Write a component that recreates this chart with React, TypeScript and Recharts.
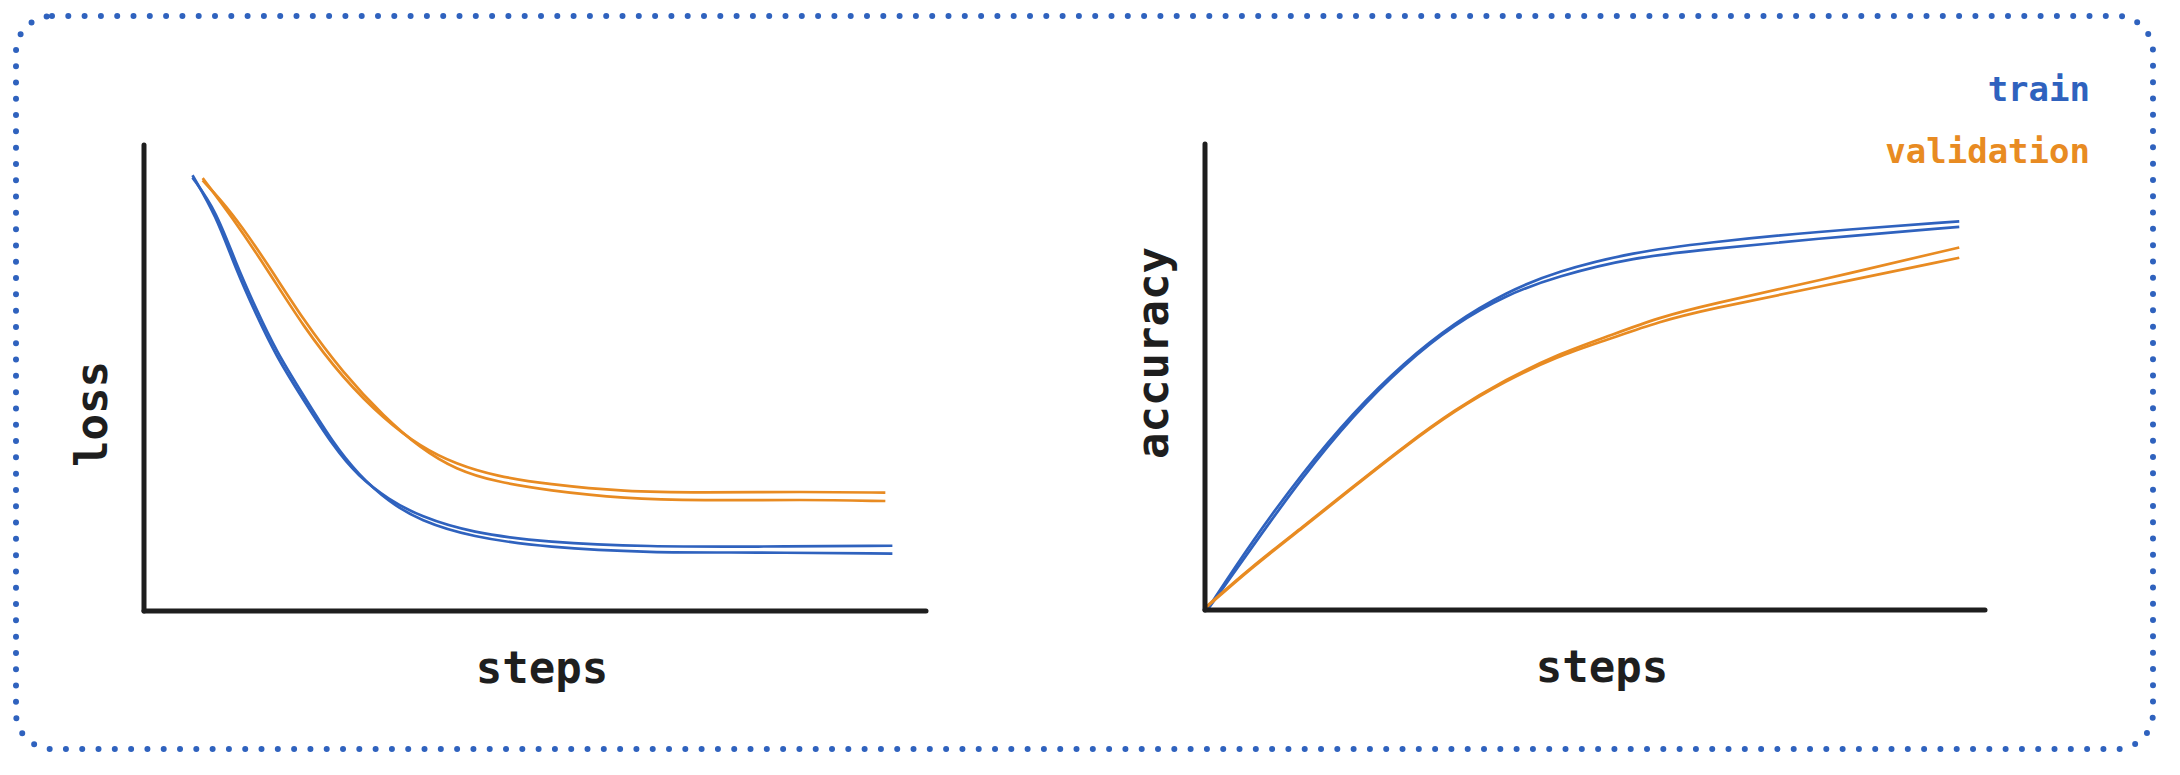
import { LineChart, Line, XAxis, YAxis, Legend } from "recharts";

const BLUE = "#2f62be";
const ORANGE = "#e88b22";
const INK = "#1e1e1e";
const FONT = "'DejaVu Sans Mono', monospace";

// loss panel (steps and loss in 0..100 plot units)
const lossTrainSteps = [6.2, 9.2, 11.7, 14.4, 16.9, 20.3, 24.2, 27.4, 31.3, 35.3, 41.8, 51.6, 64.7, 77.7, 95.7];
const lossTrainA = [93.5, 84.9, 73.5, 63.4, 54.7, 45.5, 35.3, 28.9, 23.9, 20.3, 16.8, 14.7, 13.8, 13.8, 14.0];
const lossTrainB = [93.0, 86.0, 74.8, 64.6, 55.8, 46.5, 36.0, 29.3, 23.4, 19.4, 15.9, 13.6, 12.5, 12.6, 12.3];

const lossValSteps = [7.5, 11.1, 15.7, 20.3, 25.5, 30.7, 35.3, 39.9, 45.1, 51.6, 61.4, 71.2, 84.3, 94.8];
const lossValA = [92.9, 84.9, 73.5, 61.2, 49.8, 41.2, 35.3, 31.5, 28.9, 27.2, 25.6, 25.4, 25.6, 25.4];
const lossValB = [92.4, 85.9, 74.8, 62.6, 51.0, 41.7, 35.0, 30.3, 27.7, 25.9, 24.1, 23.7, 23.9, 23.6];

// accuracy panel
const accTrainSteps = [0.4, 5.9, 12.5, 19.0, 25.5, 32.0, 38.6, 45.1, 54.9, 64.7, 77.7, 96.7];
const accTrainA = [0.4, 14.4, 29.5, 42.4, 53.1, 61.7, 68.2, 72.7, 76.8, 78.9, 81.1, 83.4];
const accTrainB = [0.2, 13.2, 28.6, 41.8, 52.7, 61.4, 67.6, 71.6, 75.7, 77.4, 79.6, 82.2];

const accValSteps = [0, 5.9, 12.5, 19.0, 25.5, 32.0, 38.6, 45.1, 51.6, 58.2, 64.7, 77.7, 96.7];
const accValA = [0.5, 9.2, 17.8, 26.5, 35.1, 43.0, 49.5, 54.8, 58.7, 62.8, 65.6, 70.3, 77.8];
const accValB = [0.3, 9.0, 17.6, 26.3, 34.9, 42.8, 49.2, 54.4, 58.0, 61.9, 64.6, 69.0, 75.6];

const legendNames = ["train", "validation"];

const rows = (steps: number[], vals: number[]) => steps.map((s, i) => ({ step: s, v: vals[i] }));

const axisLine = { stroke: INK, strokeWidth: 5, strokeLinecap: "round" as const };

function YTitle({ viewBox, text, shift }: any) {
  if (!viewBox) return null;
  const cx = viewBox.x + viewBox.width - 37;
  const cy = viewBox.y + viewBox.height / 2 + shift;
  return (
    <text
      x={cx}
      y={cy}
      transform={`rotate(-90 ${cx} ${cy})`}
      textAnchor="middle"
      fill={INK}
      fontFamily={FONT}
      fontWeight="bold"
      fontSize={44}
    >
      {text}
    </text>
  );
}

function XTitle({ viewBox, text }: any) {
  if (!viewBox) return null;
  return (
    <text
      x={viewBox.x + viewBox.width / 2 + 7}
      y={viewBox.y + 72}
      textAnchor="middle"
      fill={INK}
      fontFamily={FONT}
      fontWeight="bold"
      fontSize={44}
    >
      {text}
    </text>
  );
}

function LegendText({ payload }: any) {
  const items = (payload || []).filter((e: any) => e.type !== "none" && legendNames.includes(e.value));
  return (
    <div style={{ textAlign: "right", fontFamily: FONT, fontWeight: "bold", fontSize: 34, lineHeight: "62px" }}>
      {items.map((e: any) => (
        <div key={e.value} style={{ color: e.color }}>
          {e.value}
        </div>
      ))}
    </div>
  );
}

function Panel({
  title,
  trainSteps,
  trainA,
  trainB,
  valSteps,
  valA,
  valB,
  margin,
  titleShift,
  legend,
}: any) {
  return (
    <LineChart width={1090} height={775} margin={margin}>
      <XAxis
        type="number"
        dataKey="step"
        domain={[0, 100]}
        height={1}
        tick={false}
        tickLine={false}
        axisLine={axisLine}
        label={{ content: (p: any) => <XTitle {...p} text="steps" /> }}
      />
      <YAxis
        type="number"
        dataKey="v"
        domain={[0, 100]}
        width={1}
        tick={false}
        tickLine={false}
        axisLine={axisLine}
        label={{ content: (p: any) => <YTitle {...p} text={title} shift={titleShift} /> }}
      />
      {legend && (
        <Legend
          layout="vertical"
          align="center"
          verticalAlign="middle"
          wrapperStyle={{ top: 58, right: 90, left: "auto", width: "auto" }}
          content={LegendText}
        />
      )}
      <Line data={rows(trainSteps, trainA)} dataKey="v" name="train" type="basis" stroke={BLUE} strokeWidth={2.7} dot={false} activeDot={false} isAnimationActive={false} />
      <Line data={rows(trainSteps, trainB)} dataKey="v" name="train2" legendType="none" type="basis" stroke={BLUE} strokeWidth={2.7} dot={false} activeDot={false} isAnimationActive={false} />
      <Line data={rows(valSteps, valA)} dataKey="v" name="validation" type="basis" stroke={ORANGE} strokeWidth={2.7} dot={false} activeDot={false} isAnimationActive={false} />
      <Line data={rows(valSteps, valB)} dataKey="v" name="validation2" legendType="none" type="basis" stroke={ORANGE} strokeWidth={2.7} dot={false} activeDot={false} isAnimationActive={false} />
    </LineChart>
  );
}

export default function App() {
  return (
    <div style={{ position: "absolute", left: 0, top: 0, width: 2180, height: 775, background: "#fff" }}>
      <svg width={2180} height={775} style={{ position: "absolute", left: 0, top: 0 }}>
        <rect
          x={16}
          y={16}
          width={2137}
          height={733}
          rx={36}
          fill="none"
          stroke={BLUE}
          strokeWidth={6}
          strokeDasharray="0 16.3"
          strokeLinecap="round"
        />
      </svg>
      <div style={{ position: "absolute", left: 0, top: 0 }}>
        <Panel
          title="loss"
          trainSteps={lossTrainSteps}
          trainA={lossTrainA}
          trainB={lossTrainB}
          valSteps={lossValSteps}
          valA={lossValA}
          valB={lossValB}
          margin={{ top: 145, right: 164, bottom: 163, left: 143 }}
          titleShift={36}
          legend={false}
        />
      </div>
      <div style={{ position: "absolute", left: 1090, top: 0 }}>
        <Panel
          title="accuracy"
          trainSteps={accTrainSteps}
          trainA={accTrainA}
          trainB={accTrainB}
          valSteps={accValSteps}
          valA={accValA}
          valB={accValB}
          margin={{ top: 144, right: 195, bottom: 164, left: 114 }}
          titleShift={-24}
          legend={true}
        />
      </div>
    </div>
  );
}
